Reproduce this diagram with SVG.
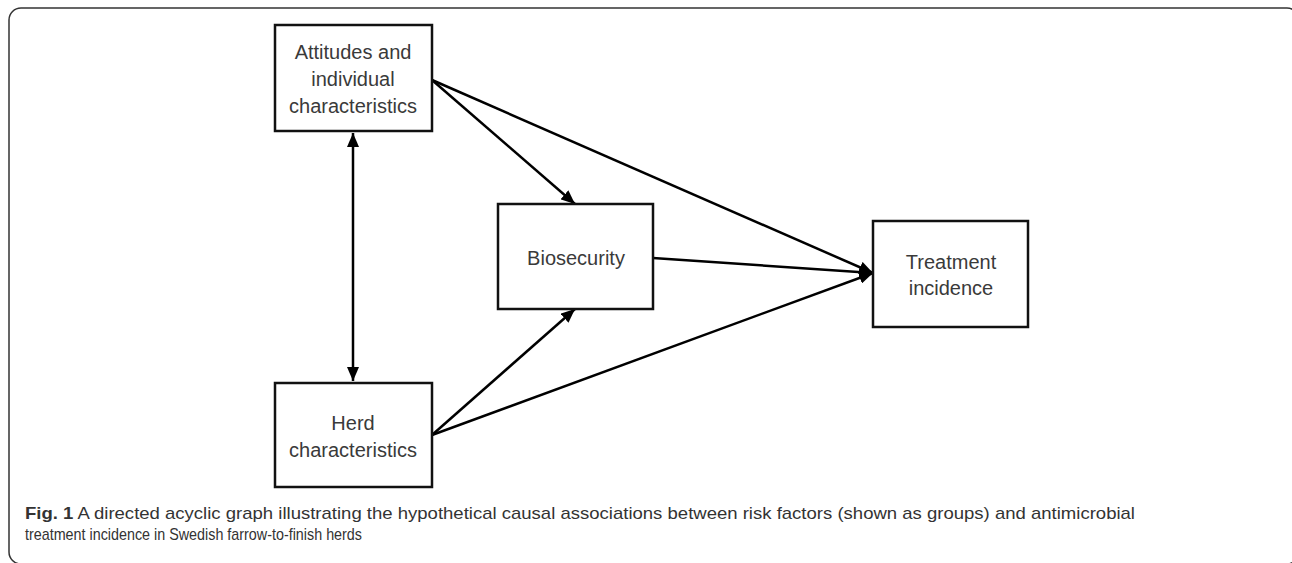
<svg xmlns="http://www.w3.org/2000/svg" width="1292" height="563" viewBox="0 0 1292 563">
<style>
.frame{fill:none;stroke:#333;stroke-width:1.5}
.box{fill:#fff;stroke:#111;stroke-width:2.5}
.lbl{font-family:"Liberation Sans",Arial,sans-serif;font-size:20px;fill:#3a3a3a;text-anchor:middle}
.edge{stroke:#000;stroke-width:2.5;fill:none}
.cap{font-family:"Liberation Sans",Arial,sans-serif;font-size:17px;fill:#333}
</style>
<defs>
<marker id="ah" viewBox="0 0 14 12" refX="14" refY="6" markerWidth="14" markerHeight="12" markerUnits="userSpaceOnUse" orient="auto-start-reverse">
<path d="M0,0 L14,6 L0,12 z" fill="#000"/>
</marker>
</defs>
<rect class="frame" x="9" y="8" width="1290" height="556" rx="12"/>
<g id="connectors">
<line class="edge" x1="353" y1="133" x2="353" y2="381" marker-start="url(#ah)" marker-end="url(#ah)"/>
<line class="edge" x1="432" y1="80" x2="575" y2="204" marker-end="url(#ah)"/>
<line class="edge" x1="432" y1="80" x2="873" y2="273" marker-end="url(#ah)"/>
<line class="edge" x1="653" y1="258" x2="873" y2="273" marker-end="url(#ah)"/>
<line class="edge" x1="432" y1="435" x2="575" y2="309" marker-end="url(#ah)"/>
<line class="edge" x1="432" y1="435" x2="873" y2="273" marker-end="url(#ah)"/>
</g>
<g id="attitudes">
<rect class="box" x="275" y="25" width="157" height="106"/>
<text class="lbl" x="353" y="59">Attitudes and</text>
<text class="lbl" x="353" y="86">individual</text>
<text class="lbl" x="353" y="113">characteristics</text>
</g>
<g id="biosecurity">
<rect class="box" x="498" y="204" width="155" height="105"/>
<text class="lbl" x="576" y="265">Biosecurity</text>
</g>
<g id="treatment">
<rect class="box" x="873" y="221" width="155" height="106"/>
<text class="lbl" x="951" y="269">Treatment</text>
<text class="lbl" x="951" y="295">incidence</text>
</g>
<g id="herd">
<rect class="box" x="275" y="383" width="157" height="104"/>
<text class="lbl" x="353" y="430">Herd</text>
<text class="lbl" x="353" y="457">characteristics</text>
</g>
<g id="caption">
<text class="cap" x="25" y="519" textLength="1110" lengthAdjust="spacingAndGlyphs"><tspan font-weight="bold">Fig. 1</tspan> A directed acyclic graph illustrating the hypothetical causal associations between risk factors (shown as groups) and antimicrobial</text>
<text class="cap" x="25" y="540" font-size="16" textLength="337" lengthAdjust="spacingAndGlyphs">treatment incidence in Swedish farrow-to-finish herds</text>
</g>
</svg>
